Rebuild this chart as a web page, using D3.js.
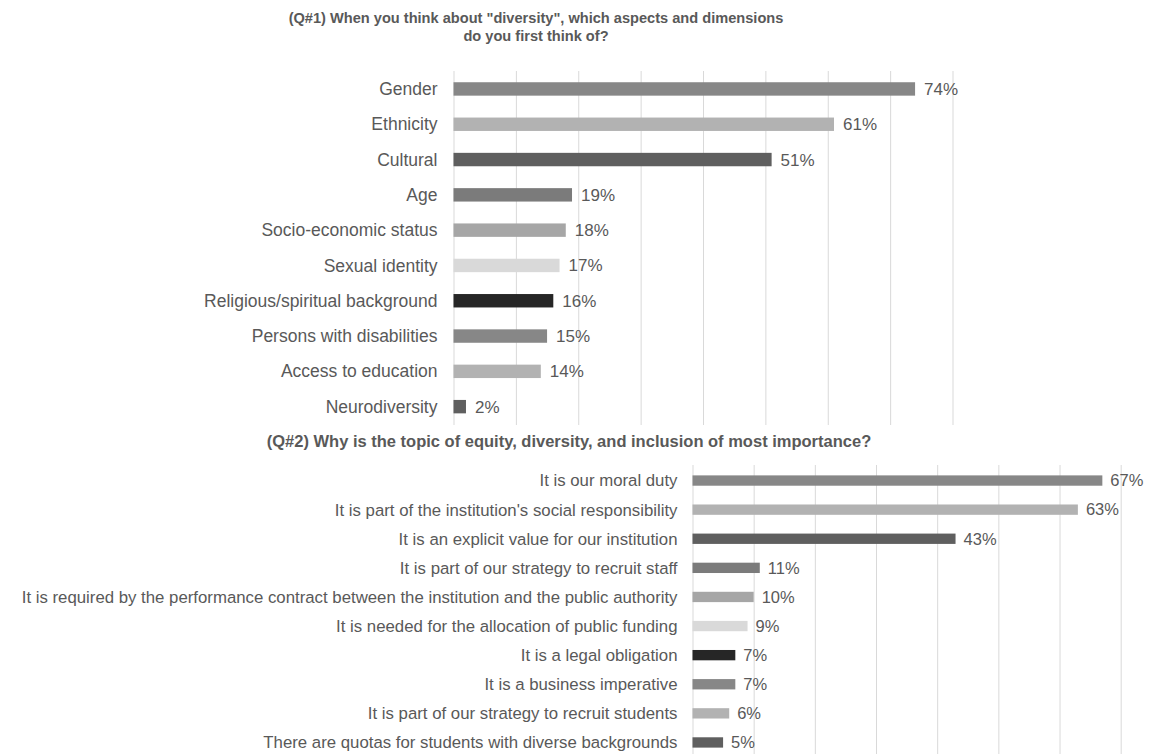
<!DOCTYPE html>
<html>
<head>
<meta charset="utf-8">
<script src="https://cdn.jsdelivr.net/npm/d3@7"></script>
<style>
  html, body { margin: 0; padding: 0; background: #fff; }
  svg { display: block; font-family: "Liberation Sans", Arial, sans-serif; }
</style>
</head>
<body>
<svg id="chart" width="1152" height="754"></svg>
<script>
// ---- Data ----
const q1Title = ["(Q#1) When you think about \"diversity\", which aspects and dimensions", "do you first think of?"];
const q1Categories = ["Gender", "Ethnicity", "Cultural", "Age", "Socio-economic status", "Sexual identity",
  "Religious/spiritual background", "Persons with disabilities", "Access to education", "Neurodiversity"];
const q1Values = [74, 61, 51, 19, 18, 17, 16, 15, 14, 2];
const q1Ticks = [0, 10, 20, 30, 40, 50, 60, 70, 80];

const q2Title = ["(Q#2) Why is the topic of equity, diversity, and inclusion of most importance?"];
const q2Categories = ["It is our moral duty", "It is part of the institution's social responsibility",
  "It is an explicit value for our institution", "It is part of our strategy to recruit staff",
  "It is required by the performance contract between the institution and the public authority",
  "It is needed for the allocation of public funding", "It is a legal obligation", "It is a business imperative",
  "It is part of our strategy to recruit students", "There are quotas for students with diverse backgrounds"];
const q2Values = [67, 63, 43, 11, 10, 9, 7, 7, 6, 5];
const q2Ticks = [0, 10, 20, 30, 40, 50, 60, 70];

const barColors = ["#878787", "#b2b2b2", "#5f5f5f", "#7b7b7b", "#a6a6a6", "#d9d9d9", "#262626", "#878787", "#b2b2b2", "#5f5f5f"];

const textColor = "#595959";
const svg = d3.select("#chart");

function drawChart(cfg) {
  const g = svg.append("g");
  const x = d3.scaleLinear().domain(cfg.domain).range(cfg.xRange);
  const y = d3.scaleBand().domain(cfg.categories).range(cfg.yRange).paddingInner(cfg.padding).paddingOuter(cfg.padding / 2);

  // gridlines
  const grid = g.append("g")
    .attr("transform", `translate(0,${cfg.gridBottom})`)
    .call(d3.axisBottom(x).tickValues(cfg.ticks).tickSize(-(cfg.gridBottom - cfg.gridTop)).tickFormat(""));
  grid.select(".domain").remove();
  grid.selectAll(".tick line").attr("stroke", "#d9d9d9").attr("stroke-width", 1);

  // bars
  g.selectAll("rect.bar").data(cfg.values).enter().append("rect")
    .attr("class", "bar")
    .attr("x", x(0))
    .attr("y", (d, i) => y(cfg.categories[i]))
    .attr("width", d => x(d) - x(0))
    .attr("height", y.bandwidth())
    .attr("fill", (d, i) => barColors[i % barColors.length]);

  // category labels
  const ax = g.append("g")
    .attr("transform", `translate(${x(0) - cfg.labelGap},0)`)
    .call(d3.axisLeft(y).tickSize(0).tickPadding(0));
  ax.select(".domain").remove();
  ax.selectAll(".tick text")
    .attr("fill", textColor)
    .style("font-size", cfg.labelSize + "px")
    .style("font-family", "\"Liberation Sans\", Arial, sans-serif")
    .attr("dy", "0.35em");

  // value labels
  g.selectAll("text.val").data(cfg.values).enter().append("text")
    .attr("class", "val")
    .attr("x", d => x(d) + cfg.valGap)
    .attr("y", (d, i) => y(cfg.categories[i]) + y.bandwidth() / 2)
    .attr("dy", "0.35em")
    .attr("fill", textColor)
    .style("font-size", cfg.valSize + "px")
    .text(d => d + "%");

  // title
  g.selectAll("text.title").data(cfg.title).enter().append("text")
    .attr("class", "title")
    .attr("x", cfg.titleX)
    .attr("y", (d, i) => cfg.titleY + i * 18)
    .attr("text-anchor", "middle")
    .attr("fill", textColor)
    .style("font-size", cfg.titleSize + "px")
    .style("font-weight", "bold")
    .text(d => d);
}

drawChart({
  title: q1Title, titleX: 536, titleY: 23, titleSize: 14.6,
  categories: q1Categories, values: q1Values, ticks: q1Ticks,
  domain: [0, 80], xRange: [453.5, 952.5],
  yRange: [71.3, 424.3], padding: 0.62,
  gridTop: 71, gridBottom: 425,
  labelGap: 16, labelSize: 17.5, valGap: 9, valSize: 17
});

drawChart({
  title: q2Title, titleX: 569, titleY: 447, titleSize: 16.5,
  categories: q2Categories, values: q2Values, ticks: q2Ticks,
  domain: [0, 70], xRange: [692.5, 1120.7],
  yRange: [466, 757], padding: 0.645,
  gridTop: 465, gridBottom: 754,
  labelGap: 15, labelSize: 16.8, valGap: 8, valSize: 16.5
});
</script>
</body>
</html>
